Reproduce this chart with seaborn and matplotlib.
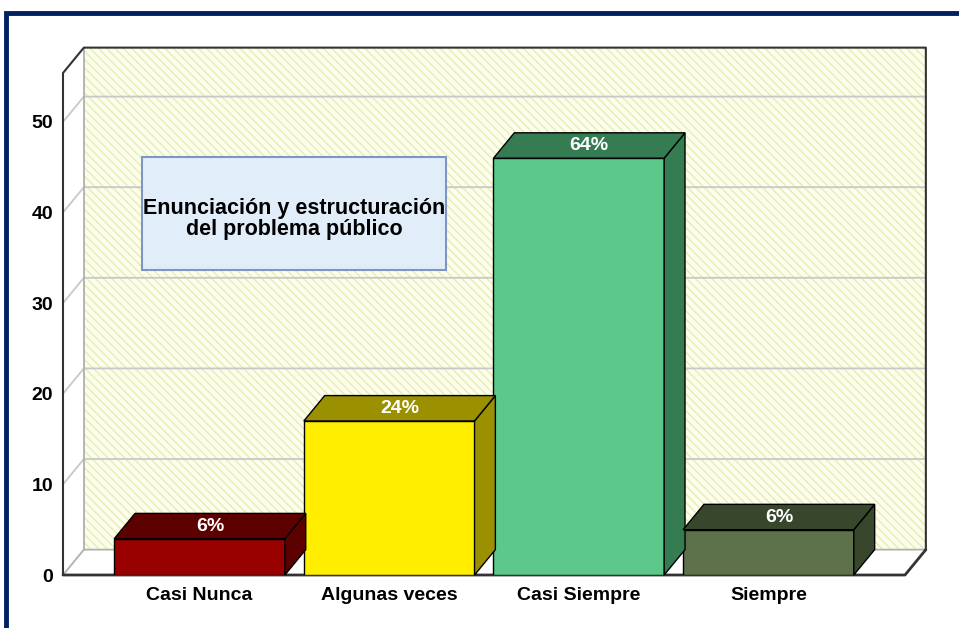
import pandas as pd
import matplotlib
matplotlib.use("Agg")
import matplotlib.pyplot as plt
import seaborn as sns
from matplotlib.patches import Polygon, Rectangle

# datos
categorias = ["Casi Nunca", "Algunas veces", "Casi Siempre", "Siempre"]
valores = [4, 17, 46, 5]
porcentajes = ["6%", "24%", "64%", "6%"]
y_ticks = [0, 10, 20, 30, 40, 50]

color_frente = ["#990000", "#ffee00", "#5cc98a", "#5d714a"]
color_lado = ["#5c0000", "#9a9000", "#367c53", "#38472c"]

sns.set_style("white")
plt.rcParams["font.family"] = ["Liberation Sans", "DejaVu Sans"]
plt.rcParams["text.color"] = "black"
plt.rcParams["xtick.color"] = "black"
plt.rcParams["ytick.color"] = "black"
plt.rcParams["hatch.linewidth"] = 1.0

fig = plt.figure(figsize=(9.59, 6.28), dpi=100)
ax = fig.add_axes([63 / 959, 53 / 628, 842 / 959, 502 / 628])
ax.patch.set_alpha(0)

df = pd.DataFrame({"cat": categorias, "n": valores})
sns.barplot(data=df, x="cat", y="n", hue="cat", palette=color_frente,
            legend=False, width=0.9, saturation=1, edgecolor="black",
            linewidth=1, ax=ax, zorder=4)
bars = list(ax.patches)

x0, x1 = -0.72, 3.72
y0, y1 = 0, 55.4
dx, dy = 0.11, 2.8
ax.set_xlim(x0, x1)
ax.set_ylim(y0, y1)

# pared del fondo con rayado
ax.add_patch(Rectangle((x0 + dx, y0 + dy), x1 - x0, y1 - y0, facecolor="#fdfdee",
                       edgecolor="none", clip_on=False, zorder=0))
ax.add_patch(Rectangle((x0 + dx, y0 + dy), x1 - x0, y1 - y0, fill=False,
                       hatch="\\\\\\\\", edgecolor="#e6edb2", lw=0,
                       clip_on=False, zorder=0.5))

# lineas de la rejilla
for v in y_ticks[1:]:
    ax.plot([x0, x0 + dx, x1 + dx], [v, v + dy, v + dy], color="#c8c8c8",
            lw=1.3, clip_on=False, zorder=1)
ax.plot([x0, x0 + dx, x1 + dx], [0, dy, dy], color="#b0b0b0", lw=1.3,
        clip_on=False, zorder=1)
ax.plot([x0 + dx, x0 + dx], [dy, y1 + dy], color="#b0b0b0", lw=1.3,
        clip_on=False, zorder=1)
# bordes oscuros
ax.plot([x0, x0, x0 + dx, x1 + dx, x1 + dx], [0, y1, y1 + dy, y1 + dy, dy],
        color="#333333", lw=1.5, clip_on=False, zorder=2)
ax.plot([x0, x1, x1 + dx], [0, 0, dy], color="#333333", lw=2,
        clip_on=False, zorder=2)

# caras 3D de las barras
for bar, lado, pct in zip(bars, color_lado, porcentajes):
    xl = bar.get_x()
    xr = xl + bar.get_width()
    h = bar.get_height()
    ax.add_patch(Polygon([(xr, 0), (xr + dx, dy), (xr + dx, h + dy), (xr, h)],
                         facecolor=lado, edgecolor="black", lw=1,
                         clip_on=False, zorder=4))
    ax.add_patch(Polygon([(xl, h), (xr, h), (xr + dx, h + dy), (xl + dx, h + dy)],
                         facecolor=lado, edgecolor="black", lw=1,
                         clip_on=False, zorder=4))
    ax.text((xl + xr) / 2 + dx / 2, h + dy / 2, pct, color="white",
            fontweight="bold", fontsize=14, ha="center", va="center", zorder=5)

for s in ax.spines.values():
    s.set_visible(False)
ax.set_yticks(y_ticks)
ax.set_yticklabels([str(t) for t in y_ticks], fontweight="bold", fontsize=14)
ax.set_xticks(range(len(categorias)))
ax.set_xticklabels(categorias, fontweight="bold", fontsize=14)
ax.tick_params(axis="y", length=0, pad=7)
ax.tick_params(axis="x", length=0, pad=9)
ax.set_xlabel("")
ax.set_ylabel("")

# cuadro de titulo
fig.add_artist(Rectangle((142 / 959, 358 / 628), 304 / 959, 113 / 628,
                         transform=fig.transFigure, facecolor="#e2edfa",
                         edgecolor="#7d97c4", lw=1.5, zorder=6))
fig.text(294 / 959, (628 - 219) / 628, "Enunciación y estructuración\ndel problema público",
         ha="center", va="center", fontweight="bold", fontsize=15.5,
         linespacing=1.05, zorder=7)

# marco azul
fig.add_artist(Rectangle((6 / 959, -0.05), 1.1, 1.05 - 13 / 628,
                         transform=fig.transFigure, fill=False,
                         edgecolor="#002060", lw=3.5, zorder=8))

fig.savefig("out.png", dpi=100)
